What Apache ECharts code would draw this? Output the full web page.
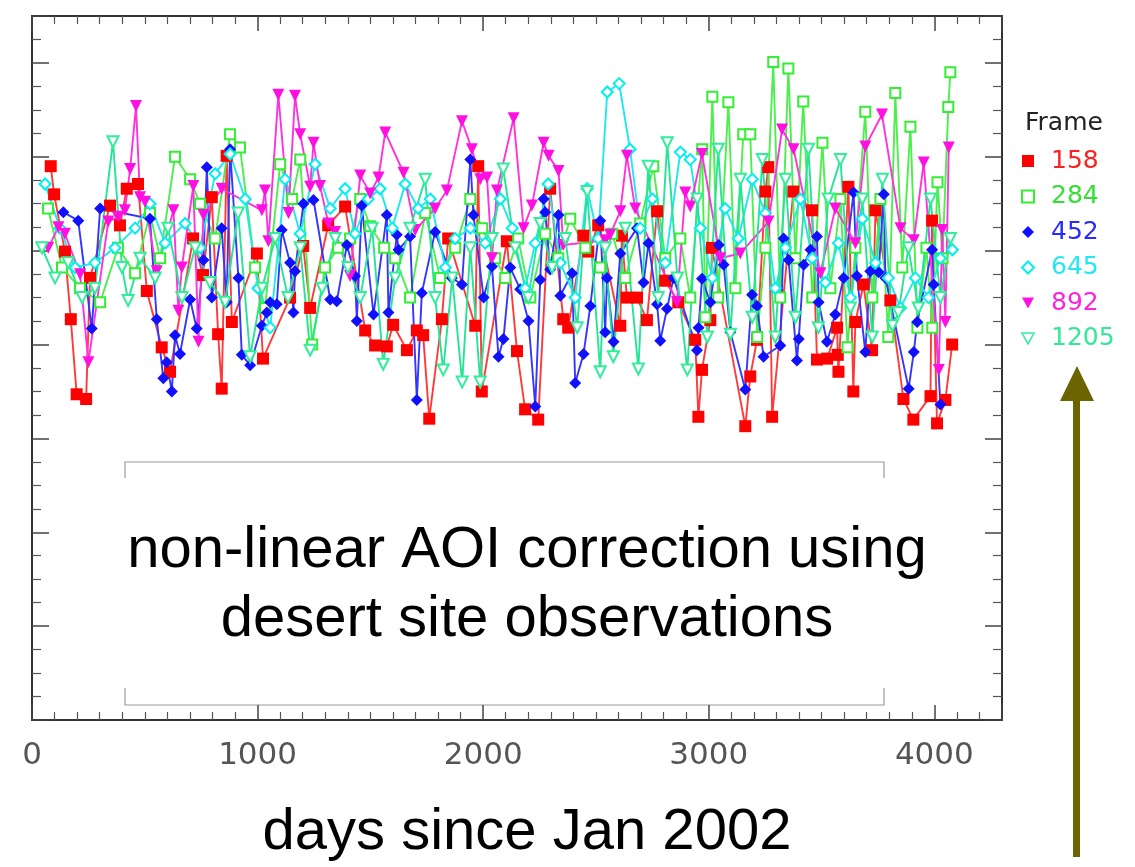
<!DOCTYPE html>
<html>
<head>
<meta charset="utf-8">
<script src="https://cdn.jsdelivr.net/npm/echarts@6/dist/echarts.min.js"></script>
<style>
* { margin: 0; padding: 0; }
html, body { background: #fff; }
#chart { width: 1135px; height: 867px; }
</style>
</head>
<body>
<div id="chart"></div>
<script>
// frame ids shown in legend
const frames = ['158', '284', '452', '645', '892', '1205'];
const xTicks = [0, 1000, 2000, 3000, 4000];

// frame 158 (red squares)
const days158 = [83,98,146,172,198,240,257,346,390,420,470,509,575,612,714,758,797,825,841,863,886,997,1024,1144,1202,1233,1313,1388,1477,1521,1573,1601,1662,1706,1734,1761,1817,1845,1965,1978,1994,2105,2150,2186,2244,2297,2355,2377,2444,2466,2510,2608,2615,2637,2682,2726,2771,2807,2865,2940,2954,2970,3007,3014,3162,3184,3214,3251,3264,3281,3375,3458,3480,3525,3569,3572,3575,3619,3641,3650,3686,3724,3739,3805,3863,3907,3983,3990,4012,4049,4079];
const vals158 = [5.90,5.60,4.99,4.27,3.47,3.42,4.71,5.48,5.27,5.66,5.71,4.57,3.97,3.71,5.13,4.74,5.57,4.11,3.53,6.01,4.24,4.97,3.85,4.50,5.05,4.39,5.27,5.47,4.15,3.99,3.98,4.21,3.94,4.15,4.10,3.21,4.27,5.13,4.20,5.90,3.50,5.10,3.93,3.31,3.20,5.66,4.27,4.18,5.16,4.99,5.27,4.20,5.16,4.50,4.50,4.26,5.42,4.68,4.45,4.05,3.23,3.73,4.26,5.03,3.13,3.66,4.05,5.63,5.89,3.23,5.63,5.43,3.84,3.85,4.18,3.89,3.71,5.68,3.50,4.24,4.64,3.94,5.43,4.47,3.42,3.20,3.45,5.32,3.16,3.41,4.00];

// frame 284 (green open squares)
const days284 = [71,133,213,302,381,457,523,568,634,701,745,812,878,922,989,1033,1100,1153,1189,1242,1299,1357,1410,1455,1499,1561,1610,1676,1743,1809,1876,1943,1996,2053,2098,2155,2209,2275,2333,2386,2453,2519,2572,2630,2696,2754,2807,2874,2918,2971,2985,3016,3042,3087,3118,3153,3184,3215,3251,3286,3317,3353,3384,3419,3459,3504,3539,3584,3615,3650,3694,3725,3761,3796,3827,3858,3894,3925,3965,3991,4014,4036,4062,4071];
const vals284 = [5.45,4.82,4.60,4.45,5.03,4.76,5.40,4.92,6.00,5.76,5.50,5.13,6.24,6.10,4.82,4.39,5.92,5.55,5.97,4.00,4.82,5.03,5.13,5.55,5.26,5.03,4.92,4.50,5.40,4.71,5.03,5.55,5.24,4.92,4.71,5.13,4.50,5.18,4.92,5.34,5.03,4.82,5.18,4.71,5.29,5.90,4.92,5.13,4.50,6.08,4.29,6.64,4.50,6.58,4.60,6.24,6.24,4.08,5.03,7.01,4.50,6.94,4.92,6.59,4.50,6.15,4.60,5.55,3.97,5.03,6.48,4.50,5.55,4.08,6.68,4.82,6.32,4.18,5.03,4.18,5.73,4.92,6.53,6.90];

// frame 452 (blue diamonds)
const days452 = [139,205,265,302,523,553,582,597,620,634,656,701,730,760,775,797,841,863,878,915,930,967,1019,1041,1056,1085,1107,1144,1159,1166,1203,1248,1322,1351,1396,1432,1440,1462,1514,1573,1580,1617,1625,1676,1706,1728,1787,1861,1906,1943,1957,2002,2039,2068,2090,2120,2164,2201,2231,2253,2268,2275,2297,2334,2342,2394,2408,2445,2475,2519,2541,2549,2578,2608,2682,2711,2733,2771,2785,2815,2844,2948,2955,2970,3007,3044,3066,3096,3162,3192,3214,3243,3317,3332,3354,3391,3399,3421,3451,3480,3487,3524,3561,3598,3642,3657,3694,3716,3753,3776,3783,3886,3909,3924,3990,3997,4027];
const vals452 = [5.41,5.32,4.17,5.45,5.34,4.27,3.64,3.81,3.50,4.10,3.90,4.48,4.17,4.90,5.89,4.50,5.24,4.45,6.08,4.71,3.89,3.78,4.20,4.34,4.45,4.43,5.22,4.87,4.34,4.78,5.50,5.54,4.48,4.46,5.06,4.73,4.25,5.48,4.32,5.38,4.34,5.17,5.01,5.15,3.41,4.55,5.20,4.71,4.64,5.97,5.38,4.50,4.83,3.87,4.06,4.82,4.59,4.25,3.34,4.69,5.55,5.41,4.80,5.38,4.52,4.76,3.59,3.90,4.41,5.32,4.13,4.71,4.03,4.97,5.24,4.66,5.08,4.43,4.04,4.38,4.71,3.94,4.18,4.70,4.45,5.06,4.85,4.13,3.52,4.53,4.41,3.87,3.99,5.13,4.90,3.83,4.06,4.85,5.01,5.15,4.45,4.03,4.32,4.71,5.62,4.73,3.92,4.78,4.77,5.60,4.71,3.53,3.92,4.24,5.01,4.64,3.36];

// frame 645 (cyan open diamonds)
const days645 = [58,124,191,279,368,457,523,590,679,745,812,878,945,1002,1056,1122,1189,1255,1322,1388,1432,1490,1543,1597,1654,1712,1765,1832,1876,1943,2009,2076,2129,2186,2231,2288,2342,2408,2461,2510,2550,2603,2651,2696,2750,2807,2874,2918,2963,3016,3073,3131,3193,3251,3295,3340,3406,3459,3517,3575,3628,3681,3739,3796,3850,3916,3974,4027,4080];
const vals645 = [5.71,5.24,4.82,4.87,5.03,5.24,5.50,5.08,5.29,5.03,5.82,6.03,5.55,4.60,4.18,5.76,5.18,5.92,5.45,5.66,5.18,5.55,5.66,5.24,5.71,5.45,5.55,4.82,5.13,5.24,5.08,5.55,5.24,4.60,5.08,5.71,4.87,4.50,5.66,5.13,6.69,6.78,6.08,5.24,5.55,4.87,6.05,5.97,5.24,4.71,5.45,5.13,5.76,5.40,4.60,5.03,5.55,4.92,4.66,5.08,4.50,5.34,4.87,4.71,4.39,4.71,4.50,4.92,5.01];

// frame 892 (magenta down triangles)
const days892 = [72,117,146,213,250,338,383,412,435,461,479,501,553,627,649,664,715,738,760,841,1019,1033,1048,1092,1137,1166,1189,1233,1248,1277,1314,1344,1410,1455,1499,1536,1566,1647,1699,1787,1839,1906,1950,1987,2017,2039,2061,2135,2179,2216,2268,2290,2334,2355,2541,2563,2608,2637,2674,2859,2896,2918,2970,3051,3140,3265,3325,3376,3495,3561,3650,3694,3768,3850,3909,3953,4020,4035,4049,4064];
const vals892 = [5.03,5.25,5.18,4.75,3.81,5.31,5.36,5.43,5.87,6.54,5.57,5.52,4.78,5.43,4.36,4.82,5.69,4.03,5.38,5.66,5.43,5.64,5.10,6.66,5.40,6.65,6.24,5.68,6.15,5.69,5.29,5.20,4.73,5.80,5.61,5.78,6.26,5.83,5.22,5.45,5.64,6.38,6.08,5.76,5.78,4.92,5.64,6.41,5.24,5.48,6.15,6.01,5.85,5.06,5.11,5.17,5.42,6.01,5.45,4.45,5.62,5.47,6.03,4.92,4.97,5.31,6.29,6.08,4.76,5.45,5.08,6.11,6.45,5.24,5.11,5.94,3.73,5.22,4.24,6.10];

// frame 1205 (aquamarine open down triangles)
const days1205 = [44,102,160,222,279,359,399,426,479,546,603,665,723,789,856,914,967,1020,1078,1135,1189,1233,1286,1344,1401,1455,1508,1557,1610,1676,1743,1787,1823,1863,1907,1943,1987,2040,2089,2142,2200,2253,2306,2364,2417,2461,2519,2541,2577,2630,2688,2732,2776,2816,2861,2905,2949,2994,3042,3096,3140,3193,3238,3295,3340,3384,3442,3486,3530,3584,3628,3681,3725,3770,3814,3841,3885,3929,3983,4027,4071];
const vals1205 = [5.03,4.71,4.87,4.50,4.60,6.16,4.82,4.47,4.92,4.71,5.24,4.50,5.03,4.66,4.45,5.40,3.87,4.60,5.13,4.50,5.03,3.94,4.60,5.13,4.82,4.50,5.24,3.79,4.71,5.24,5.76,4.50,3.73,4.71,3.60,5.03,3.60,5.13,5.87,5.03,4.50,5.29,4.82,5.13,4.18,5.63,3.71,5.03,3.87,5.24,3.74,5.90,4.50,6.15,4.71,3.73,5.55,4.08,6.08,4.11,5.76,4.29,5.97,4.08,5.76,4.29,6.08,4.18,5.55,5.97,4.39,5.55,4.08,5.76,4.20,4.34,5.03,4.39,5.55,4.50,5.13];

function pairs(xs, ys) {
  const out = [];
  const n = Math.min(xs.length, ys.length);
  for (let i = 0; i < n; i++) out.push([xs[i], ys[i]]);
  return out;
}

const downTri = 'path://M0,0L10,0L5,9Z';
const look = [
  { data: pairs(days158, vals158), symbol: 'rect', size: 12, color: '#ff0000', line: '#ff3a3a', icon: 'rect', text: '#ff2020' },
  { data: pairs(days284, vals284), symbol: 'emptyRect', size: 10, color: '#33ee33', line: '#4dee4d', icon: 'emptyRect', text: '#33e033' },
  { data: pairs(days452, vals452), symbol: 'diamond', size: 12, color: '#1010ff', line: '#3535ff', icon: 'diamond', text: '#2a2aff' },
  { data: pairs(days645, vals645), symbol: 'emptyDiamond', size: 11, color: '#00f0f0', line: '#1ee8ee', icon: 'emptyDiamond', text: '#22e8f0' },
  { data: pairs(days892, vals892), symbol: 'triangle', size: 12, color: '#ff10e0', line: '#ff33dd', icon: downTri, text: '#ff22dd' },
  { data: pairs(days1205, vals1205), symbol: 'emptyTriangle', size: 11, color: '#30ee99', line: '#26e496', icon: downTri, text: '#33e899' }
];

const chart = echarts.init(document.getElementById('chart'));

const axisLine = { show: true, onZero: false, lineStyle: { color: '#333', width: 2 } };

function xAxisOf(pos) {
  return {
    type: 'value', position: pos, min: 0, max: 4300, interval: 1000,
    axisLine: axisLine,
    axisTick: { show: true, inside: true, length: 15, lineStyle: { color: '#444', width: 1.5 } },
    minorTick: { show: true, splitNumber: 10, length: 8, lineStyle: { color: '#555', width: 1.2 } },
    axisLabel: {
      show: pos === 'bottom', margin: 20, fontSize: 31, color: '#555',
      fontFamily: 'DejaVu Sans', showMaxLabel: false,
      formatter: v => (xTicks.indexOf(v) >= 0 ? String(v) : '')
    },
    splitLine: { show: false }
  };
}

function yAxisOf(pos) {
  return {
    type: 'value', position: pos, min: 0, max: 7.5, interval: 1,
    axisLine: axisLine,
    axisTick: { show: true, inside: true, length: 17, lineStyle: { color: '#444', width: 1.5 } },
    minorTick: { show: true, splitNumber: 4, length: 9, lineStyle: { color: '#555', width: 1.2 } },
    axisLabel: { show: false },
    splitLine: { show: false }
  };
}

const bottomX = xAxisOf('bottom');
bottomX.name = 'days since Jan 2002';
bottomX.nameLocation = 'middle';
bottomX.nameGap = 84;
bottomX.nameTextStyle = { fontSize: 58, lineHeight: 58, color: '#000', fontFamily: 'Liberation Sans', padding: [0, 0, 0, 20] };

const textFont = '58px "Liberation Sans", Arial, sans-serif';

chart.setOption({
  animation: false,
  title: {
    text: 'Frame', left: 1025, top: 111, padding: 0,
    textStyle: { fontSize: 25, fontWeight: 'normal', color: '#222', fontFamily: 'DejaVu Sans' }
  },
  grid: { left: 32, right: 133, top: 16, bottom: 140, containLabel: false },
  legend: {
    orient: 'vertical', left: 1016, top: 143,
    itemWidth: 12, itemHeight: 12, itemGap: 9.5,
    selectedMode: false,
    textStyle: { fontSize: 25, lineHeight: 26, fontFamily: 'DejaVu Sans', padding: [0, 0, 0, 12] },
    data: frames.map((f, i) => {
      const l = look[i];
      const hollow = i === 5;
      return {
        name: f,
        icon: l.icon,
        itemStyle: hollow
          ? { color: '#fff', borderColor: l.color, borderWidth: 1.5 }
          : (i === 1 || i === 3 ? { color: l.color } : { color: l.color, borderWidth: 0 }),
        textStyle: { color: l.text }
      };
    })
  },
  xAxis: [bottomX, xAxisOf('top')],
  yAxis: [yAxisOf('left'), yAxisOf('right')],
  series: frames.map((f, i) => {
    const l = look[i];
    return {
      name: f,
      type: 'line',
      data: l.data,
      symbol: l.symbol,
      symbolSize: l.size,
      symbolRotate: i >= 4 ? 180 : 0,
      showSymbol: true,
      showAllSymbol: true,
      itemStyle: { color: l.color, borderWidth: (i === 1 || i === 3 || i === 5) ? 1.6 : 0 },
      lineStyle: { color: l.line, width: 1.9 },
      emphasis: { disabled: true }
    };
  }),
  graphic: [
    { type: 'polyline', shape: { points: [[125, 478], [125, 462], [884, 462], [884, 478]] }, style: { stroke: '#9a9a9a', lineWidth: 1.2, fill: null } },
    { type: 'polyline', shape: { points: [[125, 688], [125, 705], [884, 705], [884, 688]] }, style: { stroke: '#9a9a9a', lineWidth: 1.2, fill: null } },
    { type: 'text', x: 527, y: 551, style: { text: 'non-linear AOI correction using', font: textFont, fill: '#000', align: 'center', verticalAlign: 'middle', textAlign: 'center', textVerticalAlign: 'middle' } },
    { type: 'text', x: 527, y: 620, style: { text: 'desert site observations', font: textFont, fill: '#000', align: 'center', verticalAlign: 'middle', textAlign: 'center', textVerticalAlign: 'middle' } },
    { type: 'rect', shape: { x: 1073, y: 395, width: 7, height: 462 }, style: { fill: '#6b6400' } },
    { type: 'polygon', shape: { points: [[1077, 366], [1094, 401], [1060, 401]] }, style: { fill: '#6b6400' } }
  ]
});
</script>
</body>
</html>
